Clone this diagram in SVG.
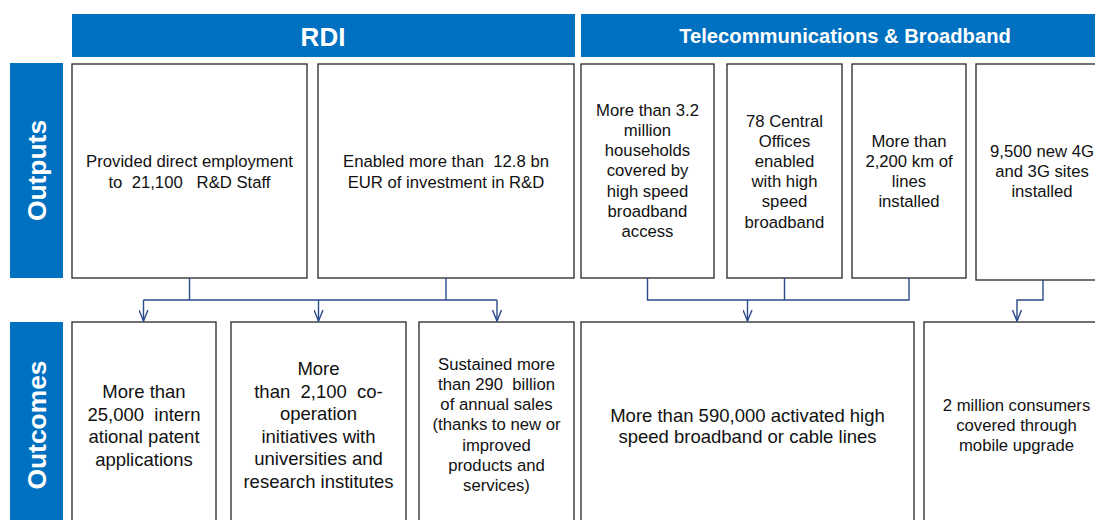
<svg xmlns="http://www.w3.org/2000/svg" width="1095" height="520" viewBox="0 0 1095 520">
<defs>
<style>
.hdr{fill:#0070C0}
.hdrT{fill:#fff;font-family:"Liberation Sans",Arial,sans-serif;font-weight:bold;text-anchor:middle}
.box{fill:#fff;stroke:#262626;stroke-width:1.3}
.t{fill:#111;font-family:"Liberation Sans",Arial,sans-serif;text-anchor:middle}
.s17{font-size:16.7px}
.s18{font-size:18.5px}
.con{fill:none;stroke:#2B4A8B;stroke-width:1.4}
</style>
<marker id="arr" markerUnits="userSpaceOnUse" viewBox="0 0 12 10" refX="11" refY="5" markerWidth="12" markerHeight="10" orient="auto">
<path d="M0,0.5 L11,5 L0,9.5" fill="none" stroke="#2B4A8B" stroke-width="1.4"/>
</marker>
</defs>
<rect width="1095" height="520" fill="#fff"/>

<g id="header-rdi">
<rect class="hdr" x="72" y="14" width="503" height="43"/>
<text class="hdrT" x="323" y="46" font-size="26">RDI</text>
</g>
<g id="header-telecom">
<rect class="hdr" x="581" y="14" width="530" height="43"/>
<text class="hdrT" x="845" y="43" font-size="20.2">Telecommunications &amp; Broadband</text>
</g>

<g id="label-outputs">
<rect class="hdr" x="10" y="63" width="53" height="215"/>
<text class="hdrT" font-size="26.4" transform="translate(45.5,170.5) rotate(-90)">Outputs</text>
</g>
<g id="label-outcomes">
<rect class="hdr" x="10" y="322" width="53" height="210"/>
<text class="hdrT" font-size="26.4" transform="translate(45.5,425) rotate(-90)">Outcomes</text>
</g>

<g id="out-rdi-1">
<rect class="box" x="72" y="64" width="235" height="214"/>
<text class="t s17" x="189.5" y="167">Provided direct employment</text>
<text class="t s17" x="189.5" y="188" xml:space="preserve">to  21,100   R&amp;D Staff</text>
</g>
<g id="out-rdi-2">
<rect class="box" x="318" y="64" width="256" height="214"/>
<text class="t s17" x="446" y="167" xml:space="preserve">Enabled more than  12.8 bn</text>
<text class="t s17" x="446" y="188">EUR of investment in R&amp;D</text>
</g>
<g id="out-tel-1">
<rect class="box" x="581" y="64" width="133" height="214"/>
<text class="t s17" x="647.5" y="115.5">More than 3.2</text>
<text class="t s17" x="647.5" y="135.8">million</text>
<text class="t s17" x="647.5" y="156.1">households</text>
<text class="t s17" x="647.5" y="176.4">covered by</text>
<text class="t s17" x="647.5" y="196.7">high speed</text>
<text class="t s17" x="647.5" y="217">broadband</text>
<text class="t s17" x="647.5" y="237.3">access</text>
</g>
<g id="out-tel-2">
<rect class="box" x="727" y="64" width="115" height="214"/>
<text class="t s17" x="784.5" y="126.5">78 Central</text>
<text class="t s17" x="784.5" y="146.7">Offices</text>
<text class="t s17" x="784.5" y="166.9">enabled</text>
<text class="t s17" x="784.5" y="187.1">with high</text>
<text class="t s17" x="784.5" y="207.3">speed</text>
<text class="t s17" x="784.5" y="227.5">broadband</text>
</g>
<g id="out-tel-3">
<rect class="box" x="852" y="64" width="114" height="214"/>
<text class="t s17" x="909" y="146.5">More than</text>
<text class="t s17" x="909" y="166.7">2,200 km of</text>
<text class="t s17" x="909" y="186.9">lines</text>
<text class="t s17" x="909" y="207.1">installed</text>
</g>
<g id="out-tel-4">
<rect class="box" x="976" y="64" width="140" height="216"/>
<text class="t s17" x="1042" y="156.5">9,500 new 4G</text>
<text class="t s17" x="1042" y="176.7">and 3G sites</text>
<text class="t s17" x="1042" y="196.9">installed</text>
</g>

<g id="oc-rdi-1">
<rect class="box" x="72" y="322" width="144" height="210"/>
<text class="t s18" x="144" y="398">More than</text>
<text class="t s18" x="144" y="420.5" xml:space="preserve">25,000  intern</text>
<text class="t s18" x="144" y="443">ational patent</text>
<text class="t s18" x="144" y="465.5">applications</text>
</g>
<g id="oc-rdi-2">
<rect class="box" x="231" y="322" width="175" height="210"/>
<text class="t s18" x="318.5" y="375">More</text>
<text class="t s18" x="318.5" y="397.5" xml:space="preserve">than  2,100  co-</text>
<text class="t s18" x="318.5" y="420">operation</text>
<text class="t s18" x="318.5" y="442.5">initiatives with</text>
<text class="t s18" x="318.5" y="465">universities and</text>
<text class="t s18" x="318.5" y="487.5">research institutes</text>
</g>
<g id="oc-rdi-3">
<rect class="box" x="419" y="322" width="155" height="210"/>
<text class="t s17" x="496.5" y="369.5">Sustained more</text>
<text class="t s17" x="496.5" y="389.8" xml:space="preserve">than 290  billion</text>
<text class="t s17" x="496.5" y="410.1">of annual sales</text>
<text class="t s17" x="496.5" y="430.4">(thanks to new or</text>
<text class="t s17" x="496.5" y="450.7">improved</text>
<text class="t s17" x="496.5" y="471">products and</text>
<text class="t s17" x="496.5" y="491.3">services)</text>
</g>
<g id="oc-tel-1">
<rect class="box" x="581" y="322" width="333" height="210"/>
<text class="t s18" x="747.5" y="421.5">More than 590,000 activated high</text>
<text class="t s18" x="747.5" y="443">speed broadband or cable lines</text>
</g>
<g id="oc-tel-2">
<rect class="box" x="924" y="322" width="190" height="210"/>
<text class="t s17" x="1016.5" y="410.5">2 million consumers</text>
<text class="t s17" x="1016.5" y="430.7">covered through</text>
<text class="t s17" x="1016.5" y="450.9">mobile upgrade</text>
</g>

<g id="connectors">
<path class="con" d="M189.5,278 V300 M446,278 V300 M143.5,300 H497"/>
<path class="con" d="M143.5,300 V321" marker-end="url(#arr)"/>
<path class="con" d="M318.5,300 V321" marker-end="url(#arr)"/>
<path class="con" d="M497,300 V321" marker-end="url(#arr)"/>
<path class="con" d="M647.5,278 V300 H909 V278 M784.5,278 V300"/>
<path class="con" d="M747.5,300 V321" marker-end="url(#arr)"/>
<path class="con" d="M1043,280 V300 H1017 V321" marker-end="url(#arr)"/>
</g>
</svg>
